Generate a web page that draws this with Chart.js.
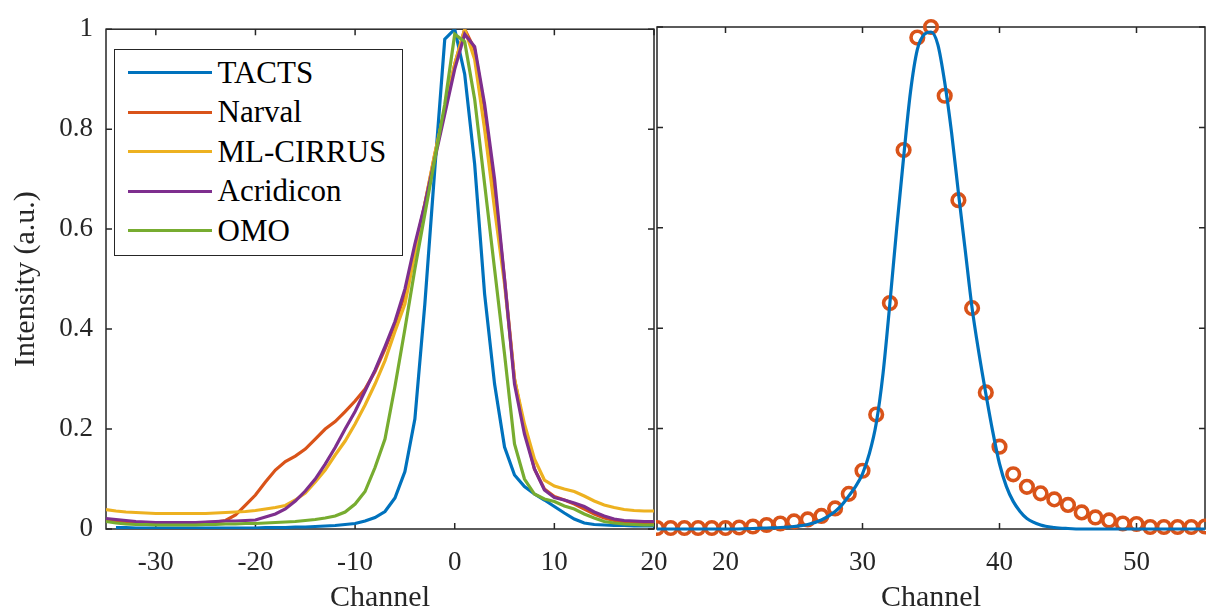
<!DOCTYPE html>
<html lang="en">
<head>
<meta charset="utf-8">
<title>Intensity vs Channel</title>
<script src="https://cdn.jsdelivr.net/npm/chart.js@4.4.1/dist/chart.umd.min.js"></script>
<style>
    body { margin: 0; background: #fff; overflow: hidden; }
    #figura { position: relative; width: 1206px; height: 612px; background: #fff; }
    #figura canvas { position: absolute; top: 0; }
    #graficoEsq { left: 0; }
    #graficoDir { left: 656px; }
    #legenda {
        position: absolute; left: 114px; top: 49px; width: 289px; height: 207px;
        box-sizing: border-box; border: 1.5px solid #262626; background: #fff;
        padding-top: 3px;
    }
    .item { height: 39.5px; display: flex; align-items: center;
        font: 31px 'Liberation Serif', serif; color: #000; white-space: nowrap; }
    .amostra { width: 84px; height: 3px; margin: 0 6px 0 12.5px; flex: none; }
</style>
</head>
<body>
<div id="figura">
    <canvas id="graficoEsq" width="700" height="612"></canvas>
    <canvas id="graficoDir" width="550" height="612"></canvas>
    <div id="legenda"></div>
</div>
<script>
// canais do painel esquerdo
const canais = [
    -35, -34, -33, -32, -31, -30, -29, -28, -27, -26,
    -25, -24, -23, -22, -21, -20, -19, -18, -17, -16,
    -15, -14, -13, -12, -11, -10, -9, -8, -7, -6,
    -5, -4, -3, -2, -1, 0, 1, 2, 3, 4,
    5, 6, 7, 8, 9, 10, 11, 12, 13, 14,
    15, 16, 17, 18, 19, 20
];

const tacts = [
    null, 0.003, 0.003, 0.002, 0.002, 0.002, 0.002, 0.002, 0.002, 0.002,
    0.002, 0.002, 0.002, 0.002, 0.002, 0.002, 0.003, 0.003, 0.003, 0.004,
    0.004, 0.005, 0.006, 0.007, 0.009, 0.011, 0.016, 0.023, 0.035, 0.062,
    0.115, 0.22, 0.45, 0.72, 0.98, 1.0, 0.91, 0.73, 0.47, 0.29,
    0.164, 0.108, 0.085, 0.07, 0.058, 0.045, 0.032, 0.02, 0.012, 0.009,
    0.008, 0.007, 0.007, 0.006, 0.006, 0.006
];

const narval = [
    0.018, 0.015, 0.013, 0.012, 0.012, 0.012, 0.012, 0.012, 0.012, 0.012,
    0.013, 0.014, 0.017, 0.028, 0.048, 0.068, 0.094, 0.118, 0.135, 0.146,
    0.16, 0.18, 0.2, 0.215, 0.235, 0.256, 0.28, 0.315, 0.36, 0.41,
    0.47, 0.56, 0.65, 0.75, 0.84, 0.93, 1.0, 0.96, 0.84, 0.68,
    0.5, 0.3, 0.2, 0.12, 0.08, 0.065, 0.058, 0.05, 0.04, 0.03,
    0.022, 0.017, 0.014, 0.012, 0.011, 0.01
];

const mlCirrus = [
    0.039, 0.036, 0.034, 0.033, 0.032, 0.031, 0.031, 0.031, 0.031, 0.031,
    0.031, 0.032, 0.033, 0.034, 0.035, 0.037, 0.04, 0.043, 0.047, 0.058,
    0.072, 0.094, 0.118, 0.148, 0.176, 0.21, 0.248, 0.29, 0.337, 0.395,
    0.45, 0.55, 0.65, 0.75, 0.84, 0.93, 1.0, 0.94, 0.8, 0.64,
    0.49, 0.3, 0.21, 0.14, 0.098, 0.086, 0.08, 0.075, 0.066, 0.056,
    0.048, 0.043, 0.039, 0.037, 0.036, 0.036
];

const acridicon = [
    0.021, 0.019, 0.017, 0.015, 0.014, 0.013, 0.013, 0.013, 0.013, 0.013,
    0.014, 0.015, 0.016, 0.016, 0.017, 0.018, 0.024, 0.03, 0.04, 0.056,
    0.076, 0.1, 0.13, 0.163, 0.2, 0.235, 0.276, 0.318, 0.365, 0.415,
    0.48, 0.57, 0.65, 0.74, 0.83, 0.92, 0.99, 0.965, 0.85, 0.7,
    0.5, 0.29, 0.19, 0.12, 0.078, 0.063, 0.058, 0.052, 0.045, 0.034,
    0.026, 0.02, 0.017, 0.016, 0.015, 0.015
];

const omo = [
    0.015, 0.012, 0.01, 0.009, 0.009, 0.008, 0.008, 0.008, 0.008, 0.008,
    0.009, 0.009, 0.01, 0.01, 0.011, 0.011, 0.012, 0.013, 0.014, 0.015,
    0.017, 0.019, 0.022, 0.026, 0.034, 0.05, 0.075, 0.123, 0.18, 0.285,
    0.4, 0.52, 0.63, 0.74, 0.85, 0.99, 0.975, 0.86, 0.69, 0.52,
    0.35, 0.17, 0.1, 0.07, 0.06, 0.055, 0.046, 0.04, 0.03, 0.022,
    0.015, 0.012, 0.01, 0.009, 0.008, 0.008
];

const nomesSeries = ['TACTS', 'Narval', 'ML-CIRRUS', 'Acridicon', 'OMO'];
const coresSeries = ['#0072BD', '#D95319', '#EDB120', '#7E2F8E', '#77AC30'];

// painel direito: canal medido e curva ajustada
const canaisMedidos = [
    15, 16, 17, 18, 19, 20, 21, 22, 23, 24,
    25, 26, 27, 28, 29, 30, 31, 32, 33, 34,
    35, 36, 37, 38, 39, 40, 41, 42, 43, 44,
    45, 46, 47, 48, 49, 50, 51, 52, 53, 54,
    55
];
const medidos = [
    0.002, 0.002, 0.002, 0.002, 0.002, 0.002, 0.003, 0.005, 0.008, 0.011,
    0.015, 0.019, 0.026, 0.041, 0.07, 0.116, 0.228, 0.45, 0.755, 0.979,
    1.0, 0.863, 0.655, 0.44, 0.272, 0.164, 0.109, 0.084, 0.071, 0.059,
    0.048, 0.033, 0.023, 0.017, 0.011, 0.01, 0.004, 0.004, 0.004, 0.004,
    0.005
];

const ajusteX = [
    15, 20, 22, 23, 24, 25, 26, 27, 28, 28.5,
    29, 29.5, 30, 30.5, 31, 31.5, 32, 32.5, 33, 33.5,
    34, 34.5, 35, 35.5, 36, 36.5, 37, 37.5, 38, 38.5,
    39, 39.5, 40, 40.5, 41, 41.5, 42, 43, 44, 45,
    46, 48, 50, 55
];
const ajusteY = [
    0, 0, 0.001, 0.002, 0.003, 0.005, 0.009, 0.018, 0.035, 0.048,
    0.066, 0.085, 0.11, 0.15, 0.21, 0.31, 0.45, 0.6, 0.74, 0.87,
    0.955, 0.985, 0.99, 0.965, 0.89, 0.79, 0.67, 0.555, 0.44, 0.35,
    0.27, 0.195, 0.13, 0.085, 0.055, 0.035, 0.021, 0.008, 0.003, 0.001,
    0, 0, 0, 0
];

// ticks
const ticksY = [0, 0.2, 0.4, 0.6, 0.8, 1];
const rotulosY = ['0', '0.2', '0.4', '0.6', '0.8', '1'];
const ticksXEsq = [-30, -20, -10, 0, 10, 20];
const rotulosXEsq = ['-30', '-20', '-10', '0', '10', '20'];
const ticksXDir = [20, 30, 40, 50];
const rotulosXDir = ['20', '30', '40', '50'];

const corEixo = '#262626';
const fonteTicks = { family: "'Liberation Serif', serif", size: 27 };
const fonteTitulo = { family: "'Liberation Serif', serif", size: 30, lineHeight: 0.9 };

// moldura com ticks para dentro nos quatro lados (estilo matlab)
const moldura = {
    id: 'moldura',
    beforeDatasetsDraw(chart, args, opts) {
        const { ctx, chartArea: a, scales } = chart;
        const tam = 6;
        ctx.save();
        ctx.strokeStyle = corEixo;
        ctx.lineWidth = 1.5;
        ctx.strokeRect(a.left, a.top, a.right - a.left, a.bottom - a.top);
        ctx.beginPath();
        opts.ticksX.forEach(v => {
            const px = scales.x.getPixelForValue(v);
            ctx.moveTo(px, a.bottom); ctx.lineTo(px, a.bottom - tam);
            ctx.moveTo(px, a.top); ctx.lineTo(px, a.top + tam);
        });
        opts.ticksY.forEach(v => {
            const py = scales.y.getPixelForValue(v);
            ctx.moveTo(a.left, py); ctx.lineTo(a.left + tam, py);
            ctx.moveTo(a.right, py); ctx.lineTo(a.right - tam, py);
        });
        ctx.stroke();
        ctx.restore();
    }
};

function eixoX(min, max, ticks, rotulos) {
    return {
        type: 'linear', min, max,
        afterBuildTicks: s => { s.ticks = ticks.map(v => ({ value: v })); },
        afterFit: s => { s.height = 83; },
        grid: { display: false, drawTicks: false },
        border: { display: false },
        ticks: {
            font: fonteTicks, color: corEixo, padding: 18,
            maxRotation: 0, autoSkip: false,
            callback: v => rotulos[ticks.indexOf(v)]
        },
        title: { display: true, text: 'Channel', font: fonteTitulo, color: corEixo, padding: 0 }
    };
}

function desenharEsquerdo() {
    const ctx = document.getElementById('graficoEsq').getContext('2d');
    const valores = [tacts, narval, mlCirrus, acridicon, omo];

    new Chart(ctx, {
        type: 'line',
        data: {
            datasets: valores.map((serie, i) => ({
                label: nomesSeries[i],
                data: canais.map((c, j) => ({ x: c, y: serie[j] })),
                borderColor: coresSeries[i],
                borderWidth: 3.2,
                pointRadius: 0,
                tension: 0,
                fill: false,
                order: valores.length - i
            }))
        },
        options: {
            responsive: false,
            animation: false,
            devicePixelRatio: 1,
            layout: { autoPadding: false, padding: { top: 27, right: 46, left: 0, bottom: 0 } },
            plugins: {
                legend: { display: false },
                tooltip: { enabled: false },
                moldura: { ticksX: ticksXEsq, ticksY: ticksY }
            },
            scales: {
                x: eixoX(-35, 20, ticksXEsq, rotulosXEsq),
                y: {
                    min: 0, max: 1,
                    afterBuildTicks: s => { s.ticks = ticksY.map(v => ({ value: v })); },
                    afterFit: s => { s.width = 106; },
                    grid: { display: false, drawTicks: false },
                    border: { display: false },
                    ticks: {
                        font: fonteTicks, color: corEixo, padding: 13,
                        callback: v => rotulosY[ticksY.indexOf(v)]
                    },
                    title: { display: true, text: 'Intensity (a.u.)', font: fonteTitulo,
                        color: corEixo, padding: { top: 13, bottom: 0 } }
                }
            }
        },
        plugins: [moldura]
    });
}

function desenharDireito() {
    const ctx = document.getElementById('graficoDir').getContext('2d');

    new Chart(ctx, {
        type: 'line',
        data: {
            datasets: [{
                label: 'Ajuste',
                data: ajusteX.map((c, j) => ({ x: c, y: ajusteY[j] })),
                borderColor: '#0072BD',
                borderWidth: 3.2,
                pointRadius: 0,
                cubicInterpolationMode: 'monotone',
                fill: false,
                clip: false,
                order: 1
            }, {
                label: 'Medido',
                data: canaisMedidos.map((c, j) => ({ x: c, y: medidos[j] })),
                showLine: false,
                pointStyle: 'circle',
                pointRadius: 6.3,
                pointBorderWidth: 3.6,
                pointBorderColor: '#D95319',
                pointBackgroundColor: 'rgba(255,255,255,0)',
                clip: false,
                order: 2
            }]
        },
        options: {
            responsive: false,
            animation: false,
            devicePixelRatio: 1,
            layout: { autoPadding: false, padding: { top: 27, right: 1, left: 1, bottom: 0 } },
            plugins: {
                legend: { display: false },
                tooltip: { enabled: false },
                moldura: { ticksX: ticksXDir, ticksY: ticksY }
            },
            scales: {
                x: eixoX(15, 55, ticksXDir, rotulosXDir),
                y: { min: 0, max: 1, display: false }
            }
        },
        plugins: [moldura]
    });
}

function montarLegenda() {
    const legenda = document.getElementById('legenda');
    legenda.innerHTML = nomesSeries.map((nome, i) => `
        <div class="item">
            <span class="amostra" style="background:${coresSeries[i]}"></span>${nome}
        </div>
    `).join('');
}

desenharEsquerdo();
desenharDireito();
montarLegenda();
</script>
</body>
</html>
